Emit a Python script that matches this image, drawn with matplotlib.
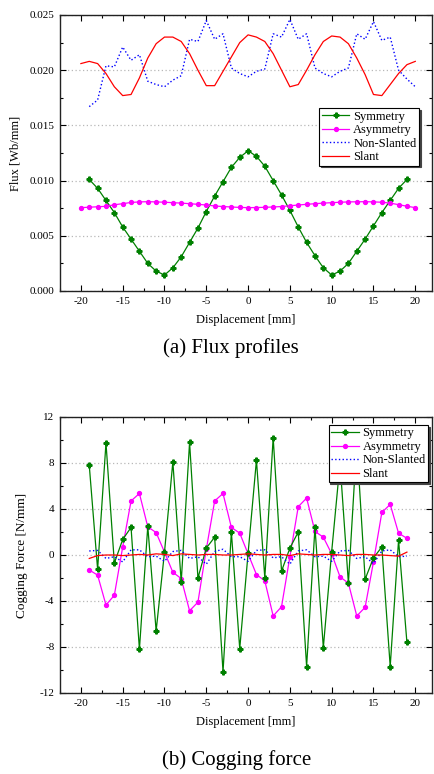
import matplotlib

matplotlib.use("Agg")
import matplotlib.pyplot as plt
import numpy as np
from matplotlib.ticker import MultipleLocator

plt.rcParams["font.family"] = ["Liberation Serif", "DejaVu Serif"]
plt.rcParams["axes.unicode_minus"] = False

# ---- (a) flux profiles ----
x_sym = np.arange(-19, 20)
flux_sym = [0.0101, 0.0093, 0.0082, 0.0071, 0.0058, 0.0047, 0.0036, 0.0025, 0.0018, 0.00145,
            0.0021, 0.0031, 0.0044, 0.0057, 0.0072, 0.0086, 0.0099, 0.0112, 0.0121, 0.0127,
            0.0122, 0.0113, 0.0100, 0.0087, 0.0073, 0.0058, 0.0044, 0.0032, 0.0021, 0.00145,
            0.0018, 0.0025, 0.0036, 0.0047, 0.0059, 0.0071, 0.0082, 0.0093, 0.0101]

x_full = np.arange(-20, 21)
flux_asym = [0.00755, 0.00759, 0.00763, 0.00767, 0.00781, 0.00791, 0.00802, 0.00807, 0.00809, 0.00807,
             0.00804, 0.00800, 0.00796, 0.00791, 0.00785, 0.00779, 0.00770, 0.00765, 0.00761, 0.00757,
             0.00755, 0.00756, 0.00758, 0.00761, 0.00765, 0.00772, 0.00779, 0.00785, 0.00791, 0.00796,
             0.00800, 0.00804, 0.00807, 0.00808, 0.00809, 0.00807, 0.00804, 0.00796, 0.00782, 0.00768,
             0.00755]

x_nonslant = np.arange(-19, 21)
flux_nonslant = [0.0167, 0.0173, 0.0204, 0.0203, 0.0221, 0.0209, 0.0214, 0.0190, 0.0187, 0.0185,
                 0.0191, 0.0195, 0.0228, 0.0226, 0.0245, 0.0228, 0.0233, 0.0202, 0.0197, 0.0194,
                 0.0199, 0.0201, 0.0233, 0.0230, 0.0246, 0.0228, 0.0233, 0.0202, 0.0197, 0.0194,
                 0.0199, 0.0202, 0.0233, 0.0228, 0.0244, 0.0227, 0.0230, 0.0200, 0.0192, 0.0185]

flux_slant = [0.0206, 0.0208, 0.0206, 0.0197, 0.0185, 0.0177, 0.0178, 0.0193, 0.0211, 0.0224,
              0.0230, 0.0230, 0.0226, 0.0215, 0.0200, 0.0186, 0.0186, 0.0199, 0.0212, 0.0225,
              0.0232, 0.0230, 0.0226, 0.0215, 0.0200, 0.0185, 0.0187, 0.0200, 0.0214, 0.0226,
              0.0231, 0.0230, 0.0224, 0.0211, 0.0196, 0.0178, 0.0177, 0.0187, 0.0197, 0.0205,
              0.0208]

# ---- (b) cogging force ----
x_cog = np.arange(-19, 20)
cog_sym = [7.8, -1.25, 9.75, -0.7, 1.35, 2.4, -8.2, 2.5, -6.6, 0.25,
           8.1, -2.35, 9.8, -2.0, 0.6, 1.55, -10.15, 2.0, -8.15, 0.15,
           8.25, -2.0, 10.2, -1.4, 0.6, 2.0, -9.7, 2.4, -8.05, 0.3,
           8.0, -2.45, 9.8, -2.1, -0.25, 0.7, -9.7, 1.3, -7.6]
cog_asym = [-1.3, -1.75, -4.35, -3.5, 0.7, 4.7, 5.35, 2.45, 1.95, 0.25,
            -1.5, -2.05, -4.85, -4.1, 0.5, 4.7, 5.35, 2.4, 1.9, 0.1,
            -1.7, -2.25, -5.3, -4.5, -0.15, 4.2, 4.95, 2.05, 1.55, 0.1,
            -1.9, -2.45, -5.3, -4.55, -0.6, 3.7, 4.4, 1.9, 1.45]
cog_nonslant = [0.35, 0.4, -0.3, -0.15, -0.6, 0.45, 0.45, -0.15, -0.1, -0.55,
                0.3, 0.4, -0.3, -0.15, -0.8, 0.3, 0.5, -0.15, -0.15, -0.55,
                0.4, 0.45, -0.25, -0.15, -0.8, 0.35, 0.45, -0.15, -0.1, -0.55,
                0.35, 0.4, -0.3, -0.15, -0.75, 0.35, 0.45, -0.15, -0.1]
cog_slant = [-0.3, -0.05, 0.0, 0.0, -0.05, 0.0, 0.05, 0.0, 0.1, 0.05,
             -0.05, 0.1, 0.05, 0.0, 0.05, 0.05, 0.0, 0.0, 0.05, 0.1,
             0.05, 0.0, 0.05, 0.05, -0.05, 0.1, 0.05, 0.0, 0.05, 0.05,
             0.0, -0.05, 0.05, 0.05, 0.0, 0.0, -0.05, -0.1, 0.25]

GREEN = "#008000"
MAGENTA = "#ff00ff"
BLUE = "#0000ff"
RED = "#ff0000"


def style_axes(ax, ylim, ymajor, yminor):
    ax.set_xlim(-22.5, 22)
    ax.set_ylim(*ylim)
    ax.xaxis.set_major_locator(MultipleLocator(5))
    ax.xaxis.set_minor_locator(MultipleLocator(2.5))
    ax.yaxis.set_major_locator(MultipleLocator(ymajor))
    ax.yaxis.set_minor_locator(MultipleLocator(yminor))
    ax.tick_params(which="both", direction="in", top=True, right=True,
                   labelsize=8, pad=4, width=0.8)
    ax.tick_params(which="major", length=4)
    ax.tick_params(which="minor", length=2.5)
    for s in ax.spines.values():
        s.set_linewidth(1.0)
        s.set_color("#222222")
    ax.yaxis.grid(True, color="#b8b8b8", ls=(0, (1, 2)), lw=0.9)
    ax.set_axisbelow(True)
    ax.set_xlabel("Displacement [mm]", fontsize=9, labelpad=6)


def add_legend(ax, **kw):
    leg = ax.legend(fontsize=9, frameon=True, fancybox=False, edgecolor="black",
                    framealpha=1, handlelength=2.2, handletextpad=0.3,
                    labelspacing=0.12, borderpad=0.2, borderaxespad=0.3,
                    shadow={"ox": 1.2, "oy": -1.2, "color": "#444444", "alpha": 1},
                    **kw)
    leg.get_frame().set_linewidth(0.8)
    return leg


fig = plt.figure(figsize=(4.34, 7.74), dpi=100)
ax1 = fig.add_axes([60 / 434, 1 - 291 / 774, 372 / 434, 276 / 774])
ax2 = fig.add_axes([60 / 434, 1 - 693 / 774, 372 / 434, 276 / 774])

ax1.plot(x_sym, flux_sym, "-", color=GREEN, lw=0.9, marker="P", ms=3.5, label="Symmetry")
ax1.plot(x_full, flux_asym, "-", color=MAGENTA, lw=0.9, marker="o", ms=2.8, label="Asymmetry")
ax1.plot(x_nonslant, flux_nonslant, ":", color=BLUE, lw=1.0, label="Non-Slanted")
ax1.plot(x_full, flux_slant, "-", color=RED, lw=0.9, label="Slant")
style_axes(ax1, (0, 0.025), 0.005, 0.0025)
ax1.yaxis.set_major_formatter(plt.FormatStrFormatter("%.3f"))
ax1.set_ylabel("Flux [Wb/mm]", fontsize=9, labelpad=6)
add_legend(ax1, loc="upper right", bbox_to_anchor=(0.975, 0.676))

ax2.plot(x_cog, cog_sym, "-", color=GREEN, lw=0.9, marker="P", ms=3.5, label="Symmetry", zorder=3)
ax2.plot(x_cog, cog_asym, "-", color=MAGENTA, lw=0.9, marker="o", ms=2.8, label="Asymmetry", zorder=2)
ax2.plot(x_cog, cog_nonslant, ":", color=BLUE, lw=1.0, label="Non-Slanted", zorder=4)
ax2.plot(x_cog, cog_slant, "-", color=RED, lw=0.9, label="Slant", zorder=5)
style_axes(ax2, (-12, 12), 4, 2)
ax2.set_ylabel("Cogging Force [N/mm]", fontsize=9.5, labelpad=8)
add_legend(ax2, loc="upper right", bbox_to_anchor=(1.0, 0.985))

fig.text(0.532, 1 - 348 / 774, "(a) Flux profiles", ha="center", va="center", fontsize=15)
fig.text(0.546, 1 - 760 / 774, "(b) Cogging force", ha="center", va="center", fontsize=15)

fig.savefig("out.png", dpi=100)
